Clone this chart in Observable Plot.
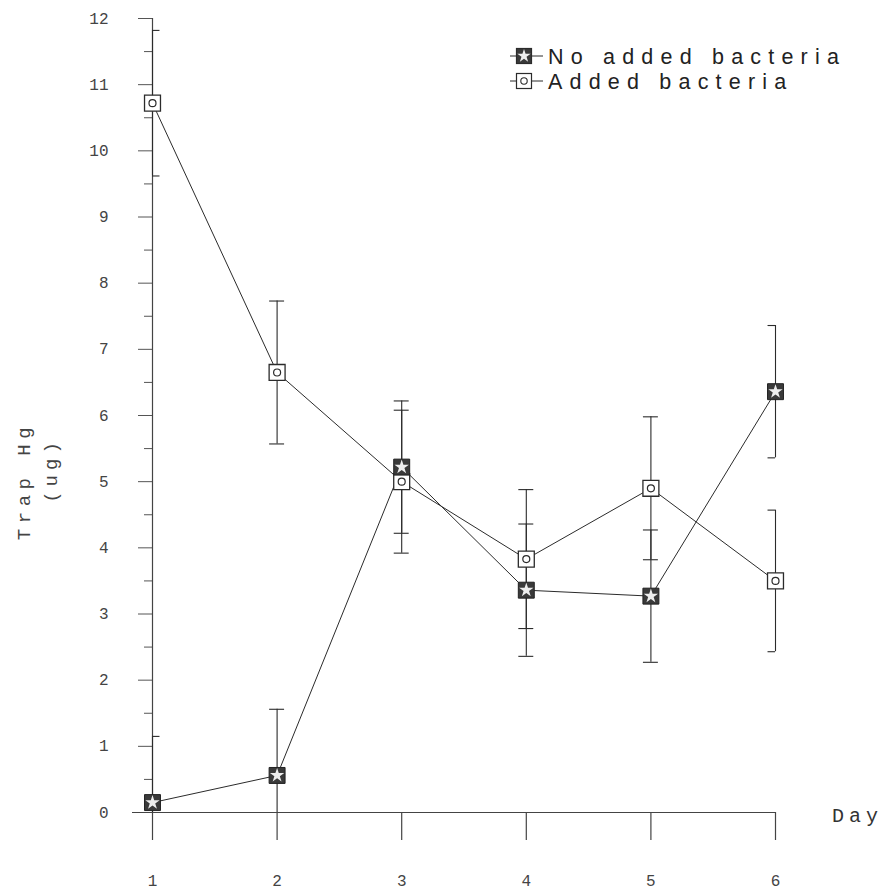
<!DOCTYPE html>
<html>
<head>
<meta charset="utf-8">
<script src="https://cdn.jsdelivr.net/npm/d3@7"></script>
<script src="https://cdn.jsdelivr.net/npm/@observablehq/plot@0.6"></script>
<style>
  html, body { margin: 0; padding: 0; background: #fff; }
  #wrap { position: relative; width: 891px; height: 892px; }
  #overlay { position: absolute; left: 0; top: 0; pointer-events: none; }
</style>
</head>
<body>
<div id="wrap"></div>
<script>
// ---- data ----
const days = [1, 2, 3, 4, 5, 6];
const seriesNames = ["No added bacteria", "Added bacteria"];
const noAdded = [0.15, 0.56, 5.22, 3.36, 3.27, 6.36];
const noAddedErr = [1.0, 1.0, 1.0, 1.0, 1.0, 1.0];
const added = [10.72, 6.65, 5.0, 3.83, 4.9, 3.5];
const addedErr = [1.1, 1.08, 1.08, 1.05, 1.08, 1.07];
const yTicks = [0, 1, 2, 3, 4, 5, 6, 7, 8, 9, 10, 11, 12];
const yMinorTicks = [0.5, 1.5, 2.5, 3.5, 4.5, 5.5, 6.5, 7.5, 8.5, 9.5, 10.5, 11.5];
const xLabel = "Day";
const yLabel1 = "Trap  Hg";
const yLabel2 = "(ug)";

// ---- build table ----
const rows = [];
days.forEach((d, i) => {
  rows.push({day: d, series: seriesNames[0], v: noAdded[i], e: noAddedErr[i]});
  rows.push({day: d, series: seriesNames[1], v: added[i], e: addedErr[i]});
});
rows.forEach(r => { r.lo = Math.max(0, r.v - r.e); r.hi = r.v + r.e; });
const first = days[0], last = days[days.length - 1];
const capW = 0.06;
rows.forEach(r => {
  r.c1 = r.day === first ? r.day : r.day - capW;
  r.c2 = r.day === last ? r.day : r.day + capW;
});
const capRows = rows.flatMap(r => {
  const out = [{day: r.day, y: r.hi, c1: r.c1, c2: r.c2}];
  if (r.v - r.e > 0) out.push({day: r.day, y: r.lo, c1: r.c1, c2: r.c2});
  return out;
});

const ink = "#2b2b2b";
const mono = "'Liberation Mono', 'DejaVu Sans Mono', monospace";

const chart = Plot.plot({
  width: 891,
  height: 892,
  marginLeft: 152,
  marginRight: 116,
  marginTop: 18,
  marginBottom: 80,
  x: {domain: [first, last], axis: null},
  y: {domain: [0, 12], axis: null},
  style: {background: "#fff", fontFamily: mono, color: ink},
  marks: [
    // axes
    Plot.axisY(yTicks, {anchor: "left", tickSize: 14, tickPadding: 30, tickFormat: d => String(d), fontSize: 16, fill: "#444", stroke: "#555", letterSpacing: 3}),
    Plot.axisY(yMinorTicks, {anchor: "left", tickSize: 8, tickFormat: () => "", stroke: "#555"}),
    Plot.ruleX([first], {stroke: "#444", strokeWidth: 1.2}),
    Plot.ruleY([0], {stroke: "#444", strokeWidth: 1.2, insetLeft: -20}),
    Plot.axisX(days, {anchor: "bottom", tickSize: 28, tickPadding: 34, tickFormat: d => String(d), fontSize: 16, fill: "#444", stroke: "#444", strokeWidth: 1.2}),
    // error bars
    Plot.ruleX(rows, {x: "day", y1: "lo", y2: "hi", stroke: ink, strokeWidth: 1.1}),
    Plot.ruleY(capRows, {y: "y", x1: "c1", x2: "c2", stroke: ink, strokeWidth: 1.1}),
    // lines
    Plot.line(rows, {x: "day", y: "v", z: "series", stroke: ink, strokeWidth: 1}),
    // markers
    Plot.dot(rows.filter(r => r.series === seriesNames[1]), {x: "day", y: "v", symbol: "square", r: 9, fill: "#fff", stroke: ink, strokeWidth: 1.3}),
    Plot.dot(rows.filter(r => r.series === seriesNames[1]), {x: "day", y: "v", symbol: "circle", r: 3.5, fill: "none", stroke: ink, strokeWidth: 1.2}),
    Plot.dot(rows.filter(r => r.series === seriesNames[0]), {x: "day", y: "v", symbol: "square", r: 9, fill: "#3a3a3a", stroke: "#222", strokeWidth: 1}),
    Plot.dot(rows.filter(r => r.series === seriesNames[0]), {x: "day", y: "v", symbol: "star", r: 4.5, fill: "#eee", stroke: "none"})
  ]
});
const wrap = document.getElementById("wrap");
wrap.appendChild(chart);

// ---- overlay: axis titles and legend ----
const ov = d3.select(wrap).append("svg").attr("id", "overlay").attr("width", 891).attr("height", 892);

ov.append("text").text(yLabel1)
  .attr("transform", "translate(23,481) rotate(-90)")
  .attr("text-anchor", "middle").attr("dy", "0.35em")
  .attr("font-family", mono).attr("font-size", 19).attr("letter-spacing", 5.5).attr("fill", "#444");
ov.append("text").text(yLabel2)
  .attr("transform", "translate(50,470) rotate(-90)")
  .attr("text-anchor", "middle").attr("dy", "0.35em")
  .attr("font-family", mono).attr("font-size", 19).attr("letter-spacing", 5).attr("fill", "#444");
ov.append("text").text(xLabel)
  .attr("x", 832).attr("y", 815).attr("dy", "0.35em")
  .attr("font-family", mono).attr("font-size", 20).attr("letter-spacing", 5).attr("fill", "#333");

const legY = [56, 81];
seriesNames.forEach((name, i) => {
  const g = ov.append("g").attr("transform", `translate(0,${legY[i]})`);
  g.append("line").attr("x1", 510).attr("x2", 543).attr("y1", 0).attr("y2", 0).attr("stroke", ink).attr("stroke-width", 1);
  const s = 7.5;
  g.append("rect").attr("x", 524 - s).attr("y", -s).attr("width", 2 * s).attr("height", 2 * s)
    .attr("fill", i === 0 ? "#3a3a3a" : "#fff").attr("stroke", ink).attr("stroke-width", 1.2);
  if (i === 0) {
    g.append("path").attr("d", d3.symbol(d3.symbolStar, 55)()).attr("transform", "translate(524,0)").attr("fill", "#eee");
  } else {
    g.append("circle").attr("cx", 524).attr("cy", 0).attr("r", 3.2).attr("fill", "none").attr("stroke", ink).attr("stroke-width", 1.1);
  }
  g.append("text").attr("x", 548).attr("y", 0).attr("dy", "0.35em").text(name)
    .attr("font-family", "'Liberation Sans', Arial, sans-serif").attr("font-size", 21.5)
    .attr("letter-spacing", 7.2).attr("fill", "#222");
});
</script>
</body>
</html>
